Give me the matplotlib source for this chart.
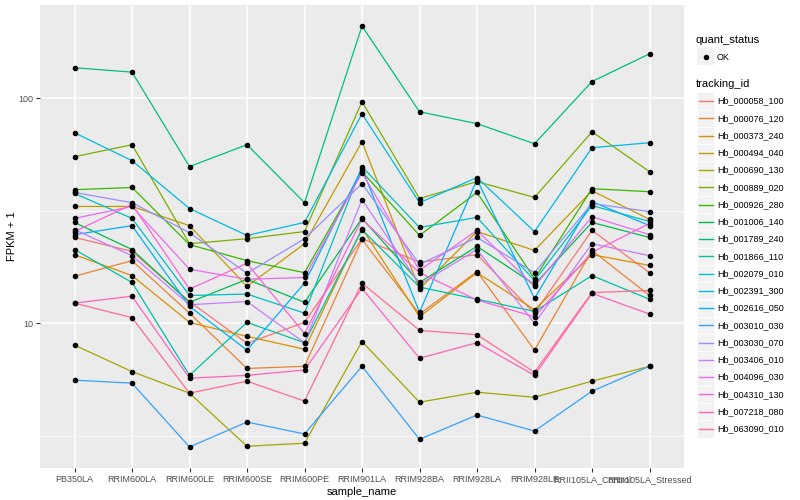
import numpy as np
import matplotlib
matplotlib.use("Agg")
import matplotlib.pyplot as plt
from matplotlib.patches import Rectangle
from matplotlib.lines import Line2D

plt.rcParams['font.family'] = ['Liberation Sans', 'DejaVu Sans']

samples = ["PB350LA", "RRIM600LA", "RRIM600LE", "RRIM600SE", "RRIM600PE",
           "RRIM901LA", "RRIM928BA", "RRIM928LA", "RRIM928LE",
           "RRII105LA_Control", "RRII105LA_Stressed"]

tracking_ids = ["Hb_000058_100", "Hb_000076_120", "Hb_000373_240", "Hb_000494_040",
                "Hb_000690_130", "Hb_000889_020", "Hb_000926_280", "Hb_001006_140",
                "Hb_001789_240", "Hb_001866_110", "Hb_002079_010", "Hb_002391_300",
                "Hb_002616_050", "Hb_003010_030", "Hb_003030_070", "Hb_003406_010",
                "Hb_004096_030", "Hb_004310_130", "Hb_007218_080", "Hb_063090_010"]

# FPKM + 1 for each gene, in sample order
hb_000058_100 = [24.1, 20.9, 12.5, 8.15, 10.1, 23.8, 18.7, 20.2, 11.1, 25.9, 16.8]
hb_000076_120 = [16.2, 19.0, 11.1, 6.3, 6.44, 23.6, 11.0, 17.0, 7.6, 21.1, 13.3]
hb_000373_240 = [20.2, 16.3, 10.1, 8.75, 7.67, 26.4, 10.7, 16.8, 11.5, 20.2, 18.1]
hb_000494_040 = [33.1, 33.1, 27.2, 14.6, 22.6, 64.3, 14.2, 25.6, 21.1, 38.9, 29.0]
hb_000690_130 = [8.0, 6.1, 4.89, 2.84, 2.93, 8.3, 4.46, 4.94, 4.69, 5.53, 6.44]
hb_000889_020 = [55.1, 62.3, 22.6, 23.8, 25.6, 96.7, 35.9, 42.7, 36.3, 71.1, 47.3]
hb_000926_280 = [39.3, 40.2, 22.4, 19.0, 16.8, 47.3, 24.6, 38.2, 15.8, 39.7, 38.5]
hb_001006_140 = [28.1, 21.3, 12.4, 15.7, 12.4, 29.3, 15.2, 22.0, 14.9, 28.1, 24.1]
hb_001789_240 = [137, 131, 49.8, 62.3, 34.4, 210, 87.3, 77.3, 62.9, 119, 158]
hb_001866_110 = [21.3, 15.2, 5.87, 10.1, 8.2, 26.1, 14.5, 12.8, 11.3, 16.3, 12.8]
hb_002079_010 = [37.8, 29.3, 13.3, 13.5, 11.1, 49.8, 26.7, 29.6, 15.5, 33.4, 28.4]
hb_002391_300 = [70.4, 52.9, 32.4, 24.6, 28.1, 85.5, 34.4, 44.5, 25.6, 60.4, 63.6]
hb_002616_050 = [24.8, 27.2, 11.9, 7.6, 15.1, 48.8, 11.2, 43.6, 12.9, 34.8, 27.2]
hb_003010_030 = [5.59, 5.42, 2.82, 3.64, 3.22, 6.44, 3.05, 3.91, 3.32, 4.99, 6.44]
hb_003030_070 = [38.2, 34.4, 25.3, 16.7, 23.8, 41.8, 18.3, 24.1, 16.8, 34.1, 31.4]
hb_003406_010 = [26.1, 20.0, 12.1, 12.5, 8.2, 35.5, 14.9, 21.3, 10.0, 22.6, 20.0]
hb_004096_030 = [29.3, 33.1, 17.4, 15.7, 16.0, 46.8, 17.2, 25.9, 14.6, 29.8, 24.8]
hb_004310_130 = [25.6, 33.8, 14.2, 18.5, 9.0, 29.0, 16.8, 12.7, 10.7, 20.7, 27.8]
hb_007218_080 = [12.3, 13.2, 5.7, 5.87, 6.2, 14.3, 7.0, 8.2, 5.87, 13.6, 11.0]
hb_063090_010 = [12.3, 10.6, 4.89, 5.53, 4.51, 15.1, 9.3, 8.9, 6.06, 13.7, 14.0]

series = [hb_000058_100, hb_000076_120, hb_000373_240, hb_000494_040, hb_000690_130,
          hb_000889_020, hb_000926_280, hb_001006_140, hb_001789_240, hb_001866_110,
          hb_002079_010, hb_002391_300, hb_002616_050, hb_003010_030, hb_003030_070,
          hb_003406_010, hb_004096_030, hb_004310_130, hb_007218_080, hb_063090_010]

# ggplot default hue palette, 20 levels
colors = ["#F8766D", "#EA8331", "#D89000", "#C09B00", "#A3A500", "#7CAE00", "#39B600",
          "#00BB4E", "#00BF7D", "#00C1A3", "#00BFC4", "#00BAE0", "#00B0F6", "#35A2FF",
          "#9590FF", "#C77CFF", "#E76BF3", "#FA62DB", "#FF62BC", "#FF6C91"]

fig = plt.figure(figsize=(8, 5), dpi=100)
ax = fig.add_axes([40 / 800, 1 - 468 / 500, 644 / 800, 463 / 500])
ax.set_facecolor("#EBEBEB")

x = np.arange(len(samples))
for vals, c in zip(series, colors):
    ax.plot(x, vals, color=c, lw=0.9, zorder=2)
for vals in series:
    ax.plot(x, vals, "o", color="black", ms=3.0, zorder=3)

ax.set_yscale("log")
ax.set_yticks([10, 100])
ax.set_yticklabels(["10", "100"])
ax.set_yticks([10 ** 0.5, 10 ** 1.5, 10 ** 2.5], minor=True)
ax.yaxis.set_minor_formatter(matplotlib.ticker.NullFormatter())
ax.tick_params(axis="y", which="minor", length=0)
ax.set_xticks(x)
ax.set_xticklabels(samples)

# limits after the ticks, so the minor ticks do not widen them
allv = np.log10(np.concatenate([np.array(s) for s in series]))
lo, hi = allv.min(), allv.max()
pad = (hi - lo) * 0.05
ax.set_ylim(10 ** (lo - pad), 10 ** (hi + pad))
ax.set_xlim(-0.6, len(samples) - 0.4)

ax.grid(which="major", color="white", lw=1.1)
ax.grid(which="minor", axis="y", color="white", lw=0.55)
ax.set_axisbelow(True)
for s in ax.spines.values():
    s.set_visible(False)
ax.tick_params(which="major", length=3, width=0.8, color="#333333",
               labelsize=6.5, labelcolor="#4D4D4D", pad=2)
ax.set_xlabel("sample_name", fontsize=8, labelpad=2)
ax.set_ylabel("FPKM + 1", fontsize=8, labelpad=1)

# legends drawn in pixel coordinates
lg = fig.add_axes([0, 0, 1, 1], facecolor="none")
lg.set_xlim(0, 800)
lg.set_ylim(500, 0)
lg.axis("off")
lg.text(696, 40, "quant_status", fontsize=8, va="center", ha="left")
lg.add_patch(Rectangle((697, 48), 17, 17, facecolor="#F2F2F2", edgecolor="none"))
lg.plot([705.5], [56.5], "o", color="black", ms=3.0)
lg.text(717, 57, "OK", fontsize=6.5, va="center", ha="left")
lg.text(696, 84, "tracking_id", fontsize=8, va="center", ha="left")
for i, (tid, c) in enumerate(zip(tracking_ids, colors)):
    yc = 101 + i * 17.26
    lg.add_patch(Rectangle((697, yc - 8.6), 17, 17.2, facecolor="#F2F2F2", edgecolor="white", lw=0.5))
    lg.add_line(Line2D([698.5, 712.5], [yc, yc], color=c, lw=1.0))
    lg.text(717, yc, tid, fontsize=6.5, va="center", ha="left")

fig.savefig("out.png", dpi=100)
